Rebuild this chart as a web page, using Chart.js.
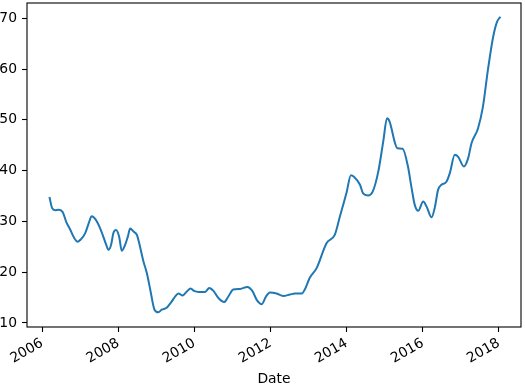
<!DOCTYPE html>
<html>
<head>
<meta charset="utf-8">
<script src="https://cdn.jsdelivr.net/npm/chart.js@4"></script>
<style>
  html, body { margin: 0; padding: 0; background: #fff; }
  #wrap { width: 525px; height: 388px; }
</style>
</head>
<body>
<div id="wrap"><canvas id="lineChart"></canvas></div>
<script>
// dates as decimal years
const dates = [
    2006.19, 2006.26, 2006.34, 2006.43, 2006.54, 2006.63, 2006.74, 2006.82, 2006.93,
    2007.02, 2007.13, 2007.22, 2007.30, 2007.41, 2007.50, 2007.59, 2007.68, 2007.74, 2007.81, 2007.87, 2007.94,
    2008.02, 2008.09, 2008.18, 2008.25, 2008.31, 2008.40, 2008.49, 2008.57, 2008.66, 2008.75, 2008.84, 2008.95,
    2009.05, 2009.14, 2009.27, 2009.40, 2009.49, 2009.58, 2009.69, 2009.80, 2009.90, 2009.99,
    2010.11, 2010.28, 2010.39, 2010.50, 2010.63, 2010.78, 2010.89,
    2011.02, 2011.20, 2011.39, 2011.52, 2011.64, 2011.77, 2011.88, 2011.98,
    2012.16, 2012.33, 2012.51, 2012.64, 2012.82, 2012.90,
    2013.03, 2013.21, 2013.47, 2013.69, 2013.82,
    2014.00, 2014.11, 2014.19, 2014.35, 2014.43, 2014.56, 2014.68, 2014.83, 2014.96,
    2015.06, 2015.13, 2015.27, 2015.33, 2015.47, 2015.61, 2015.70, 2015.79, 2015.88,
    2016.01, 2016.10, 2016.23, 2016.32, 2016.40, 2016.49, 2016.62, 2016.71, 2016.84, 2016.93,
    2017.08, 2017.19, 2017.28, 2017.45, 2017.58, 2017.71, 2017.85, 2017.95, 2018.04
];
const values = [
    34.8, 32.6, 32.2, 32.3, 31.8, 29.9, 28.3, 27.0, 26.0,
    26.5, 27.7, 29.6, 31.0, 30.3, 29.0, 27.3, 25.4, 24.4, 25.4, 27.7, 28.3,
    27.0, 24.2, 25.4, 27.0, 28.6, 28.0, 27.3, 25.0, 22.1, 19.8, 16.5, 12.6,
    12.1, 12.6, 13.0, 14.2, 15.2, 15.8, 15.4, 16.2, 16.8, 16.3,
    16.1, 16.1, 16.9, 16.3, 14.9, 14.1, 15.2,
    16.6, 16.7, 17.1, 16.3, 14.5, 13.7, 15.2, 16.0,
    15.8, 15.3, 15.6, 15.8, 15.8, 16.6,
    18.9, 20.8, 25.7, 27.4, 30.9,
    35.8, 39.1, 38.8, 37.2, 35.5, 35.1, 35.8, 39.8, 45.7,
    50.3, 49.6, 45.4, 44.4, 44.3, 40.8, 36.8, 33.2, 32.1,
    33.9, 32.9, 30.8, 32.9, 36.2, 37.2, 37.8, 39.5, 43.1, 42.7,
    40.8, 42.4, 45.4, 48.3, 52.6, 59.8, 66.4, 69.3, 70.3
];
const xTicks = [2006, 2008, 2010, 2012, 2014, 2016, 2018];
const yTicks = [10, 20, 30, 40, 50, 60, 70];

const font = { family: 'DejaVu Sans', size: 13.9 };

// matplotlib-style box around the plot area
const frame = {
    id: 'frame',
    afterDraw(chart) {
        const a = chart.chartArea, ctx = chart.ctx;
        ctx.save();
        ctx.strokeStyle = '#000';
        ctx.lineWidth = 1.1;
        ctx.strokeRect(a.left, a.top, a.right - a.left, a.bottom - a.top);
        ctx.restore();
    }
};

new Chart(document.getElementById('lineChart'), {
    type: 'line',
    data: {
        datasets: [{
            data: dates.map((d, i) => ({ x: d, y: values[i] })),
            borderColor: '#1f77b4',
            borderWidth: 2,
            pointRadius: 0,
            cubicInterpolationMode: 'monotone',
            fill: false
        }]
    },
    options: {
        responsive: true,
        maintainAspectRatio: false,
        animation: false,
        layout: { padding: { top: 3, right: 4, left: 0, bottom: 0 } },
        plugins: {
            legend: { display: false },
            tooltip: { enabled: false }
        },
        scales: {
            x: {
                type: 'linear',
                min: 2005.6,
                max: 2018.58,
                afterBuildTicks: s => { s.ticks = xTicks.map(v => ({ value: v })); },
                afterFit: s => { s.height = 61; s.paddingLeft = 0; s.paddingRight = 0; },
                grid: { display: true, drawOnChartArea: false, color: '#000', tickLength: 5, tickWidth: 1.1 },
                border: { display: false },
                ticks: {
                    color: '#000', font: font, padding: 3,
                    minRotation: 30, maxRotation: 30, autoSkip: false,
                    callback: v => String(v)
                },
                title: { display: true, text: 'Date', color: '#000', font: font, padding: { top: 0, bottom: 0 } }
            },
            y: {
                min: 9.2,
                max: 73.0,
                afterBuildTicks: s => { s.ticks = yTicks.map(v => ({ value: v })); },
                afterFit: s => { s.width = 27; s.paddingTop = 0; s.paddingBottom = 0; },
                grid: { display: true, drawOnChartArea: false, color: '#000', tickLength: 5, tickWidth: 1.1 },
                border: { display: false },
                ticks: { color: '#000', font: font, padding: 5 }
            }
        }
    },
    plugins: [frame]
});
</script>
</body>
</html>
